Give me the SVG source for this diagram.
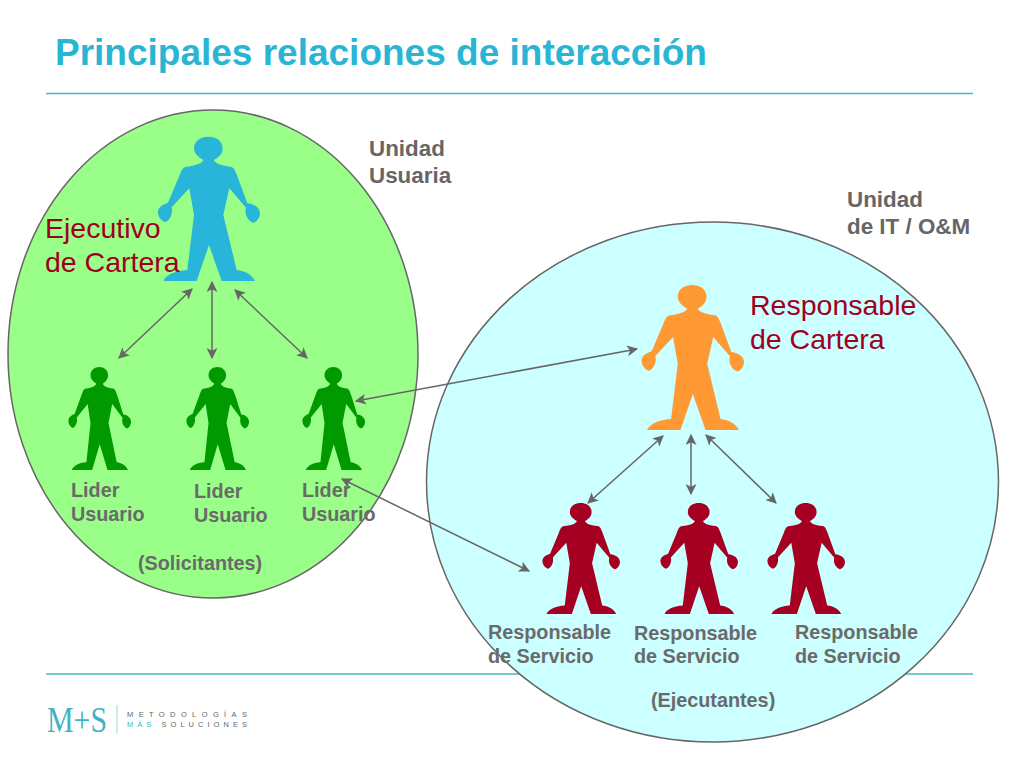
<svg xmlns="http://www.w3.org/2000/svg" width="1024" height="768" viewBox="0 0 1024 768">
<style>
text{font-family:"Liberation Sans",Arial,sans-serif}
.title{font-size:37px;font-weight:bold;fill:#29b5d3}
.lab{font-size:19.800px;font-weight:bold;fill:#6a6a6a}
.unit{font-size:22.400px;font-weight:bold;fill:#666}
.big{font-size:28.500px;fill:#a00020}
.rule{stroke:#4cb6c9;stroke-width:1.500}
.con{stroke:#666;stroke-width:1.500;fill:none;marker-start:url(#a);marker-end:url(#a)}
.tag{font-size:7.500px;fill:#666}
</style>
<defs>
<marker id="a" viewBox="0 0 10 10" refX="9" refY="5" markerWidth="11" markerHeight="11" markerUnits="userSpaceOnUse" orient="auto-start-reverse"><path d="M0 0L10 5L0 10L2.500 5Z" fill="#666"/></marker>
<path id="p" d="M190 120C175 112 162 100 162 85C162 63 182 50 205 50C228 50 248 63 248 85C248 100 238 112 222 120C226 130 240 136 272 140C282 142 285 150 292 168L322 250C345 252 360 265 360 280C360 295 348 308 340 308C326 304 312 285 318 263L268 205L250 285L290 450C312 452 335 462 345 483L245 483L207 375L170 483L70 483C78 465 105 452 142 450L162 285L148 205L95 262C100 285 85 306 74 306C60 300 52 285 54 272C58 258 72 252 84 248L118 168C125 150 128 142 140 140C172 136 186 130 190 120Z"/>
</defs>
<rect width="1024" height="768" fill="#fff"/>
<text class="title" x="55" y="65">Principales relaciones de interacción</text>
<line class="rule" x1="46" y1="93.500" x2="973" y2="93.500"/>
<line class="rule" x1="46" y1="674" x2="973" y2="674"/>
<g id="logo">
<text x="47" y="732" font-size="35" fill="#3fb3c4" textLength="60" lengthAdjust="spacingAndGlyphs" style="font-family:'Liberation Serif',serif">M+S</text>
<line x1="117" y1="705" x2="117" y2="733" stroke="#9fd6de" stroke-width="1"/>
<text class="tag" x="127" y="717" textLength="120">METODOLOGÍAS</text>
<text class="tag" x="127" y="727" textLength="120"><tspan fill="#3fb3c4">MÁS</tspan> SOLUCIONES</text>
</g>
<g id="unidad-usuaria"><ellipse cx="213" cy="354" rx="205" ry="244" fill="#99ff88" stroke="#666" stroke-width="1.500"/></g>
<g id="unidad-it"><ellipse cx="712.500" cy="482" rx="286" ry="260" fill="#ccffff" stroke="#666" stroke-width="1.500"/></g>
<g id="ejecutivo"><use href="#p" transform="translate(140 120) scale(.3333)" fill="#29b5d9"/></g>
<g id="lider1"><use href="#p" transform="translate(57.400 355.100) scale(.2045 .238)" fill="#009900"/></g>
<g id="lider2"><use href="#p" transform="translate(175.400 355.100) scale(.2045 .238)" fill="#009900"/></g>
<g id="lider3"><use href="#p" transform="translate(291.400 355.100) scale(.2045 .238)" fill="#009900"/></g>
<g id="responsable-cartera"><use href="#p" transform="translate(623.600 268.250) scale(.3344 .335)" fill="#ff9933"/></g>
<g id="serv1"><use href="#p" transform="translate(528.800 490.200) scale(.2532 .2564)" fill="#a50021"/></g>
<g id="serv2"><use href="#p" transform="translate(646.800 490.200) scale(.2532 .2564)" fill="#a50021"/></g>
<g id="serv3"><use href="#p" transform="translate(753.800 490.200) scale(.2532 .2564)" fill="#a50021"/></g>
<g id="connectors">
<line class="con" x1="192" y1="289" x2="119" y2="358"/>
<line class="con" x1="212" y1="282" x2="212" y2="358"/>
<line class="con" x1="235" y1="290" x2="307" y2="358"/>
<line class="con" x1="637" y1="349" x2="356" y2="401"/>
<line class="con" x1="342" y1="479" x2="529" y2="571"/>
<line class="con" x1="663" y1="436" x2="588" y2="503"/>
<line class="con" x1="691" y1="435" x2="691" y2="494"/>
<line class="con" x1="706" y1="435" x2="776" y2="503"/>
</g>
<g id="labels">
<text class="big" x="45" y="238">Ejecutivo</text>
<text class="big" x="45" y="272">de Cartera</text>
<text class="big" x="750" y="315">Responsable</text>
<text class="big" x="750" y="349">de Cartera</text>
<text class="unit" x="369" y="156">Unidad</text>
<text class="unit" x="369" y="183">Usuaria</text>
<text class="unit" x="847" y="207">Unidad</text>
<text class="unit" x="847" y="234">de IT / O&amp;M</text>
<text class="lab" x="71" y="497">Lider</text>
<text class="lab" x="71" y="521">Usuario</text>
<text class="lab" x="194" y="498">Lider</text>
<text class="lab" x="194" y="522">Usuario</text>
<text class="lab" x="302" y="497">Lider</text>
<text class="lab" x="302" y="521">Usuario</text>
<text class="lab" x="138" y="570">(Solicitantes)</text>
<text class="lab" x="488" y="639">Responsable</text>
<text class="lab" x="488" y="663">de Servicio</text>
<text class="lab" x="634" y="640">Responsable</text>
<text class="lab" x="634" y="663">de Servicio</text>
<text class="lab" x="795" y="639">Responsable</text>
<text class="lab" x="795" y="663">de Servicio</text>
<text class="lab" x="651" y="707">(Ejecutantes)</text>
</g>
</svg>
